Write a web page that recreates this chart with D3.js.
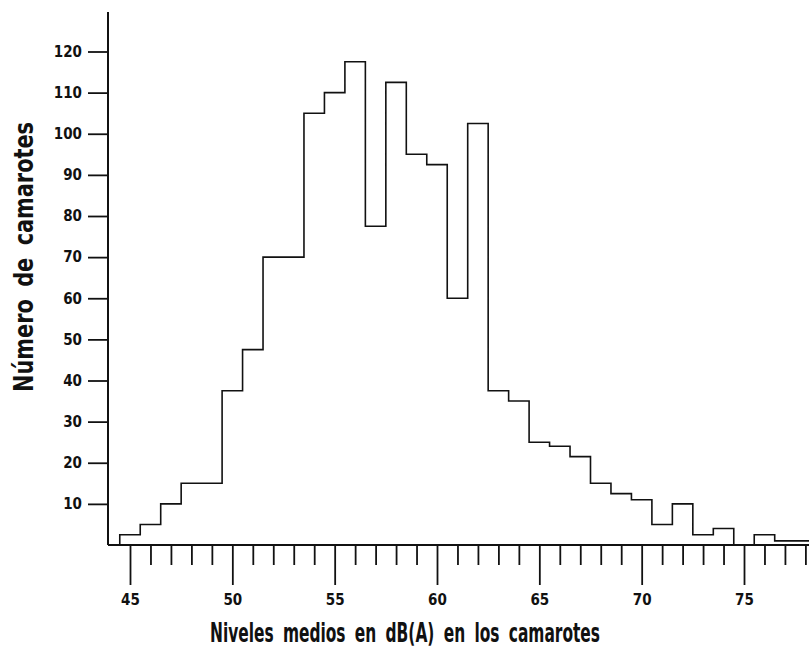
<!DOCTYPE html>
<html>
<head>
<meta charset="utf-8">
<script src="https://cdn.jsdelivr.net/npm/d3@7"></script>
<style>
  body { margin: 0; background: #fff; }
  svg text { font-family: "Liberation Sans Narrow", "DejaVu Sans Condensed", "Roboto Condensed", "Liberation Sans", sans-serif; font-weight: bold; fill: #111; }
</style>
</head>
<body>
<div id="chart"></div>
<script>
// Histogram: number of cabins per mean level dB(A)

var bins = [45, 46, 47, 48, 49, 50, 51, 52, 53, 54, 55, 56, 57, 58, 59, 60, 61,
            62, 63, 64, 65, 66, 67, 68, 69, 70, 71, 72, 73, 74, 75, 76, 77, 78];
var counts = [2.5, 5, 10, 15, 15, 37.5, 47.5, 70, 70, 105, 110, 117.5, 77.5, 112.5, 95, 92.5, 60,
              102.5, 37.5, 35, 25, 24, 21.5, 15, 12.5, 11, 5, 10, 2.5, 4, 0, 2.5, 1, 1];
var yTicks = [10, 20, 30, 40, 50, 60, 70, 80, 90, 100, 110, 120];
var xMajor = [45, 50, 55, 60, 65, 70, 75];
var xMinor = [46, 47, 48, 49, 51, 52, 53, 54, 56, 57, 58, 59, 61, 62, 63, 64, 66, 67, 68, 69, 71, 72, 73, 74, 76, 77, 78];
var xTitle = "Niveles medios en dB(A) en los camarotes";
var yTitle = "Número de camarotes";

var width = 809, height = 650;
var axisX = 108, axisTop = 12;

var svg = d3.select("#chart").append("svg")
    .attr("width", width)
    .attr("height", height);

var x = d3.scaleLinear()
    .domain([45, 75])
    .range([130, 744]);

var y = d3.scaleLinear()
    .domain([0, 120])
    .range([545, 51.5]);

// histogram outline
var pts = [[bins[0] - 0.5, 0]];
for (i = 0; i < bins.length; i++) {
  pts.push([bins[i] - 0.5, counts[i]]);
}
pts.push([bins[bins.length - 1] + 0.5, counts[counts.length - 1]]);

var line = d3.line()
    .x(function(d) { return x(d[0]); })
    .y(function(d) { return y(d[1]); })
    .curve(d3.curveStepAfter);

svg.append("path")
    .datum(pts)
    .attr("fill", "none")
    .attr("stroke", "#111")
    .attr("stroke-width", 1.6)
    .attr("d", line);

// x axis: minor and major ticks
svg.append("g")
    .attr("transform", "translate(0," + y(0) + ")")
    .call(d3.axisBottom(x).tickValues(xMinor).tickSize(20).tickFormat(""))
    .call(function(g) { g.select(".domain").remove(); })
    .call(function(g) { g.selectAll("line").attr("stroke", "#111").attr("stroke-width", 1.8); });

svg.append("g")
    .attr("transform", "translate(0," + y(0) + ")")
    .call(d3.axisBottom(x).tickValues(xMajor).tickSize(40).tickPadding(9))
    .call(function(g) { g.select(".domain").remove(); })
    .call(function(g) { g.selectAll("line").attr("stroke", "#111").attr("stroke-width", 1.8); })
    .call(function(g) { g.selectAll("text").attr("font-size", 15).attr("fill", "#111"); });

// y axis
svg.append("g")
    .attr("transform", "translate(" + axisX + ",0)")
    .call(d3.axisLeft(y).tickValues(yTicks).tickSize(20).tickPadding(6))
    .call(function(g) { g.select(".domain").remove(); })
    .call(function(g) { g.selectAll("line").attr("stroke", "#111").attr("stroke-width", 1.8); })
    .call(function(g) { g.selectAll("text").attr("font-size", 15).attr("fill", "#111"); });

// axis lines
svg.append("line")
    .attr("x1", axisX).attr("x2", axisX)
    .attr("y1", axisTop).attr("y2", y(0))
    .attr("stroke", "#111").attr("stroke-width", 2);

svg.append("line")
    .attr("x1", axisX).attr("x2", width)
    .attr("y1", y(0)).attr("y2", y(0))
    .attr("stroke", "#111").attr("stroke-width", 2);

// titles
svg.append("text")
    .attr("x", 405)
    .attr("y", 642)
    .attr("text-anchor", "middle")
    .attr("font-size", 26)
    .attr("textLength", 390)
    .attr("lengthAdjust", "spacingAndGlyphs")
    .attr("word-spacing", 6)
    .text(xTitle);

svg.append("text")
    .attr("transform", "translate(33,257) rotate(-90)")
    .attr("text-anchor", "middle")
    .attr("font-size", 27)
    .attr("textLength", 270)
    .attr("lengthAdjust", "spacingAndGlyphs")
    .attr("word-spacing", 6)
    .text(yTitle);
</script>
</body>
</html>
